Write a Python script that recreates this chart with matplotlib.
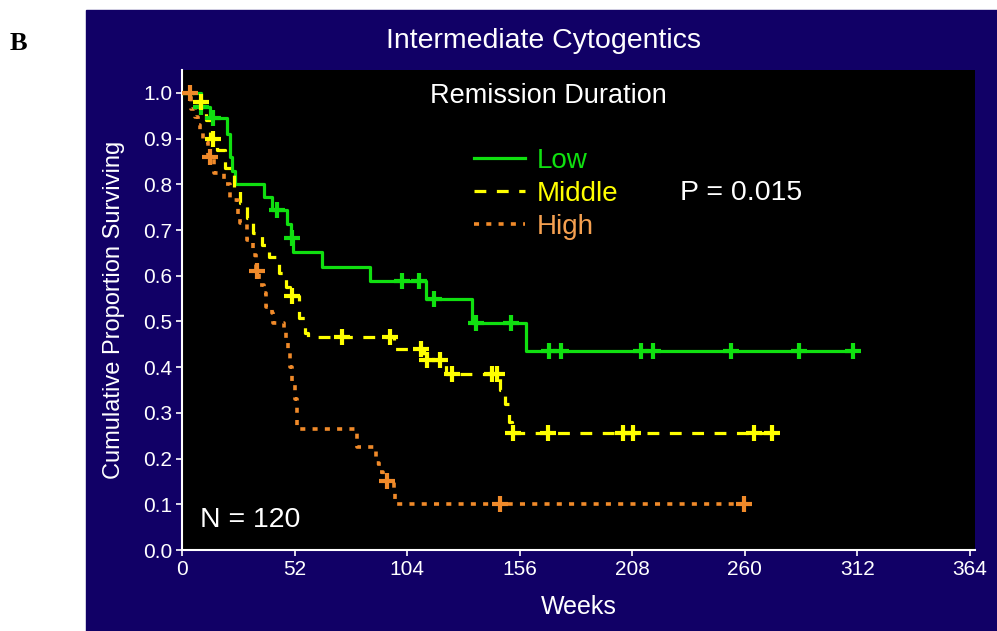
import matplotlib.pyplot as plt
import numpy as np
from matplotlib.lines import Line2D
from matplotlib.patches import Rectangle

plt.rcParams['font.family'] = ['Liberation Sans', 'DejaVu Sans']

# step times (weeks) and surviving proportion after each step
low_t = [0, 9, 13, 21, 22, 23, 24.5, 38, 41.5, 48.5, 50.5, 51.5, 64.6, 87,
         112.7, 134, 159]
low_s = [1.0, 0.97, 0.945, 0.91, 0.86, 0.83, 0.80, 0.772, 0.744, 0.713,
         0.683, 0.652, 0.62, 0.589, 0.549, 0.497, 0.435]
low_cens = [9, 14.5, 44, 51, 101.6, 109.5, 116.5, 135.8, 152, 169.5, 175,
            212, 217.5, 253.6, 285, 310]

mid_t = [0, 6, 11, 13, 16, 20, 24, 27, 30, 33, 37, 40, 45, 48, 50, 54, 57,
         58, 98, 112, 122, 147, 149, 151, 152.5]
mid_s = [1.0, 0.98, 0.94, 0.90, 0.875, 0.836, 0.795, 0.76, 0.727, 0.694,
         0.667, 0.641, 0.606, 0.575, 0.556, 0.507, 0.475, 0.466, 0.44,
         0.416, 0.385, 0.35, 0.32, 0.28, 0.256]
mid_cens = [8.8, 14.5, 51, 73.8, 96, 110.4, 113, 119, 124.6, 143, 145.4,
            152.7, 169, 203.8, 208.5, 264, 272.4]

high_t = [0, 4, 6, 7.5, 8.5, 9.5, 12, 15, 19.5, 22, 26, 27, 30, 33, 34,
          35.5, 38, 39, 41.5, 42, 47, 48, 49, 50, 51, 52, 53, 81, 89.5, 91,
          93, 98, 98.5, 99]
high_s = [1.0, 0.965, 0.947, 0.93, 0.912, 0.893, 0.86, 0.825, 0.80, 0.766,
          0.733, 0.715, 0.678, 0.645, 0.61, 0.58, 0.562, 0.532, 0.519, 0.497,
          0.477, 0.455, 0.431, 0.40, 0.37, 0.33, 0.265, 0.226, 0.19, 0.171,
          0.15, 0.131, 0.11, 0.10]
high_cens = [3.7, 13, 34.5, 94.8, 147, 259.6]

GREEN = '#10e010'
YELLOW = '#ffff00'
ORANGE = '#f08a2a'
PANEL = '#110066'


def draw_curve(ax, t, s, cens, color, ls, lw=2.3):
    t = np.array(t, dtype=float)
    s = np.array(s, dtype=float)
    end = max(cens[-1], t[-1])
    tt = np.append(t, end)
    ss = np.append(s, s[-1])
    ax.step(tt, ss, where='post', color=color, lw=lw, linestyle=ls,
            zorder=3)
    cens = np.array(cens, dtype=float)
    idx = np.searchsorted(t, cens, side='right') - 1
    ax.plot(cens, s[idx], '+', color=color, ms=12, mew=3, zorder=4)


fig = plt.figure(figsize=(9.97, 6.31), dpi=100, facecolor='white')
fig.patches.append(Rectangle((86 / 997, 0), 911 / 997, 621 / 631,
                             transform=fig.transFigure, color=PANEL,
                             zorder=-5))
fig.text(10 / 997, 1 - 43 / 631, 'B', fontsize=19, fontweight='bold',
         family='Liberation Serif', va='center', ha='left')
fig.text(544 / 997, 1 - 41 / 631, 'Intermediate Cytogentics', fontsize=20.5,
         color='white', ha='center', va='center')

ax = fig.add_axes([182 / 997, 81 / 631, 793 / 997, 480 / 631])
ax.set_zorder(2)
ax.set_facecolor('black')

draw_curve(ax, low_t, low_s, low_cens, GREEN, '-')
draw_curve(ax, mid_t, mid_s, mid_cens, YELLOW, (0, (3.7, 3.3)))
draw_curve(ax, high_t, high_s, high_cens, ORANGE, (0, (1.4, 2.0)), lw=2.6)

ax.set_xlim(0, 366.3)
ax.set_ylim(0, 1.05)
ax.set_xticks(np.arange(0, 365, 52))
ax.set_yticks(np.arange(0, 1.01, 0.1))
ax.set_yticklabels([f'{v:.1f}' for v in np.arange(0, 1.01, 0.1)])
ax.tick_params(colors='white', labelsize=15, length=4, width=1.2, pad=3)
for side in ['top', 'right']:
    ax.spines[side].set_visible(False)
for side in ['left', 'bottom']:
    ax.spines[side].set_color('white')
    ax.spines[side].set_linewidth(1.5)

ax.set_xlabel('Weeks', color='white', fontsize=18, labelpad=12)
ax.set_ylabel('Cumulative Proportion Surviving', color='white', fontsize=17,
              labelpad=13)

ax.text(0.4615, 0.946, 'Remission Duration', transform=ax.transAxes,
        color='white', fontsize=19.5, ha='center', va='center')
ax.text(0.628, 0.744, 'P = 0.015', transform=ax.transAxes, color='white',
        fontsize=20.5, ha='left', va='center')
ax.text(0.0227, 0.0625, 'N = 120', transform=ax.transAxes, color='white',
        fontsize=20.5, ha='left', va='center')

handles = [Line2D([], [], color=GREEN, lw=2.3),
           Line2D([], [], color=YELLOW, lw=2.3, linestyle=(0, (3.7, 3.3))),
           Line2D([], [], color=ORANGE, lw=2.6, linestyle=(0, (1.4, 2.0)))]
leg = ax.legend(handles, ['Low', 'Middle', 'High'], loc='upper left',
                bbox_to_anchor=(0.368, 0.838), frameon=False, fontsize=20,
                handlelength=1.83, handletextpad=0.43, labelspacing=0.26,
                borderpad=0, borderaxespad=0)
for txt, c in zip(leg.get_texts(), [GREEN, YELLOW, '#f5a050']):
    txt.set_color(c)

fig.savefig('out.png', dpi=100, facecolor=fig.get_facecolor())
